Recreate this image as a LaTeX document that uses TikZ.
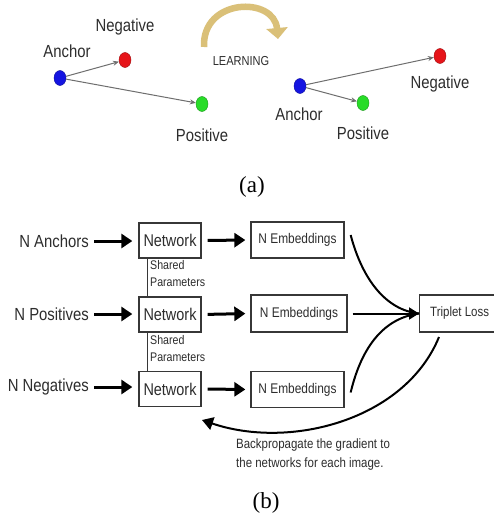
\documentclass[tikz,border=0pt]{standalone}
\usepackage{fontspec}
\setmainfont{Liberation Serif}
\newfontfamily\nar[FakeStretch=0.85]{Liberation Sans}
\usetikzlibrary{arrows.meta,shapes.geometric}
\definecolor{txt}{RGB}{45,45,45}
\definecolor{edge}{RGB}{55,55,55}
\definecolor{dotblue}{RGB}{20,20,225}
\definecolor{dotred}{RGB}{230,20,25}
\definecolor{dotgreen}{RGB}{40,220,40}
\definecolor{tanarrow}{RGB}{218,192,120}
\definecolor{thin}{RGB}{110,110,110}
\tikzset{
  lab/.style={font=\nar\fontsize{17.5}{20}\selectfont, text=txt, inner sep=0pt},
  dot/.style={ellipse, minimum width=12pt, minimum height=15pt, inner sep=0pt, draw=#1!70!black, fill=#1, line width=0.4pt},
  vec/.style={draw=thin, line width=1pt, -{Stealth[length=6pt,width=5pt]}},
  netbox/.style={draw=edge, line width=1.3pt, minimum width=62pt, minimum height=35pt, inner sep=0pt, text=txt, font=\nar\fontsize{17}{20}\selectfont},
  embbox/.style={draw=edge, line width=1.3pt, minimum width=93pt, minimum height=36pt, inner sep=0pt, text=txt, font=\nar\fontsize{14}{16}\selectfont},
  thick arrow/.style={draw=black, line width=3pt, -{Triangle[length=11pt,width=14pt]}},
  curve/.style={draw=black, line width=2pt},
  small/.style={font=\nar\fontsize{12.5}{17}\selectfont, text=txt, inner sep=0pt, align=left},
  caption/.style={font=\fontsize{23}{26}\selectfont, inner sep=0pt}
}
\begin{document}
\begin{tikzpicture}[x=1pt,y=-1pt]
\useasboundingbox (0,0) rectangle (493,519);
\fill[white] (0,0) rectangle (493,519);
% ---------- (a) left ----------
\node[dot=dotblue] (a1) at (60,78) {};
\node[dot=dotred] (n1) at (125,60) {};
\node[dot=dotgreen] (p1) at (202,104) {};
\draw[vec] (a1) -- (n1);
\draw[vec] (a1) -- (p1);
\node[lab] (la1) at (67,51) {Anchor};
\node[lab] (ln1) at (125,27) {Negative};
\node[lab] (lp1) at (202,135) {Positive};
% ---------- learning arrow ----------
\coordinate (ls) at (204,47);
\coordinate (le) at (278,39);
\draw[tanarrow, line width=6.5pt, -{Triangle[length=11pt,width=21pt]}] (ls) .. controls (202,-2) and (274,-4) .. (le);
\node[font=\nar\fontsize{13}{15}\selectfont, text=txt, inner sep=0pt] (learn) at (241,61) {LEARNING};
% ---------- (a) right ----------
\node[dot=dotblue] (a2) at (300,86) {};
\node[dot=dotred] (n2) at (440,56) {};
\node[dot=dotgreen] (p2) at (363,103) {};
\draw[vec] (a2) -- (n2);
\draw[vec] (a2) -- (p2);
\node[lab] (la2) at (299,114) {Anchor};
\node[lab] (ln2) at (440,84) {Negative};
\node[lab] (lp2) at (363,133) {Positive};
\node[caption] (capa) at (252,187) {(a)};
% ---------- (b) ----------
\node[netbox] (net1) at (170,240.5) {Network};
\node[netbox] (net2) at (170,314.5) {Network};
\node[netbox] (net3) at (170,389) {Network};
\node[embbox] (emb1) at (297.5,240) {N Embeddings};
\node[embbox, minimum width=96pt, minimum height=37pt] (emb2) at (299,313.5) {N Embeddings};
\node[embbox] (emb3) at (297.5,389.5) {N Embeddings};
\node[draw=edge, line width=1.3pt, minimum width=80pt, minimum height=37pt, inner sep=0pt, text=txt, font=\nar\fontsize{13.5}{16}\selectfont, anchor=west] (loss) at (419,313.5) {Triplet Loss};
\node[lab, anchor=east] (in1) at (89,241) {N Anchors};
\node[lab, anchor=east] (in2) at (89,314) {N Positives};
\node[lab, anchor=east] (in3) at (89,387) {N Negatives};
\foreach \i in {1,2,3}{
  \draw[thick arrow, shorten <=5pt, shorten >=6pt] (in\i.east) -- (net\i.west |- in\i.east);
  \draw[thick arrow, shorten <=6pt, shorten >=5pt] (net\i.east) -- (emb\i.west);
}
\draw[edge, line width=1.2pt] ([xshift=9pt]net1.south west) -- ([xshift=9pt]net2.north west);
\draw[edge, line width=1.2pt] ([xshift=9pt]net2.south west) -- ([xshift=9pt]net3.north west);
\node[small, anchor=north west] (sp1) at (150,260) {Shared\\Parameters};
\node[small, anchor=north west] (sp2) at (150,335) {Shared\\Parameters};
\coordinate (c1) at ([xshift=6pt,yshift=5pt]emb1.east);
\coordinate (c3) at ([xshift=6pt,yshift=-3pt]emb3.east);
\draw[curve] (c1) .. controls (362,278) and (385,310) .. (loss.west);
\draw[curve] (c3) .. controls (362,345) and (385,318) .. (loss.west);
\draw[curve, -{Triangle[length=10pt,width=12pt]}, shorten <=5pt] (emb2.east) -- (loss.west);
\coordinate (bs) at (439,337);
\coordinate (be) at (202,420);
\draw[curve, -{Triangle[length=11pt,width=13pt]}] (bs) .. controls (405,420) and (290,450) .. (be);
\node[small, anchor=north west, font=\nar\fontsize{13.5}{19}\selectfont] (bp) at (236,439) {Backpropagate the gradient to\\the networks for each image.};
\node[caption] (capb) at (266,503) {(b)};
\end{tikzpicture}
\end{document}
